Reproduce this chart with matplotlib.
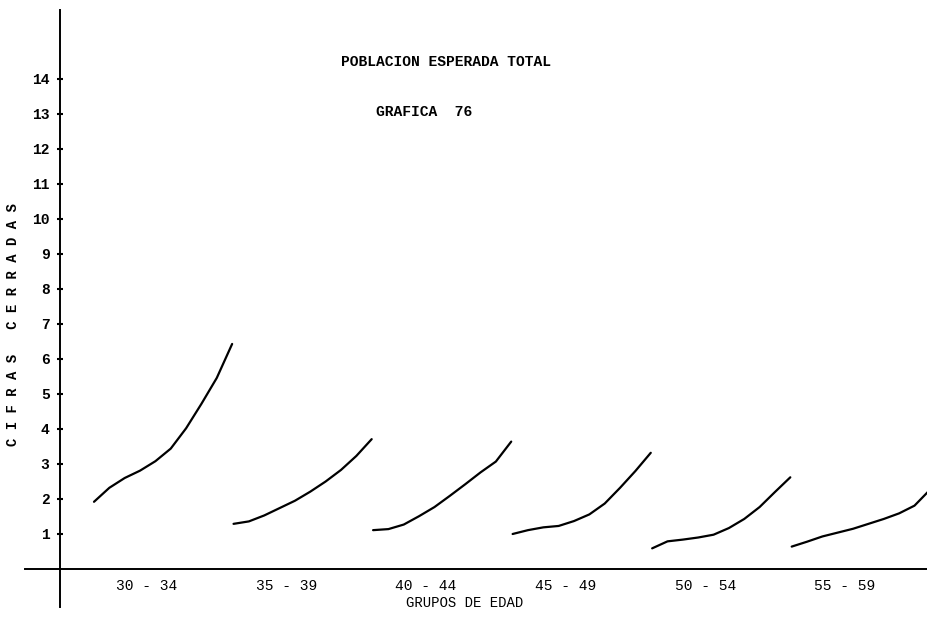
import matplotlib
matplotlib.use("Agg")
import matplotlib.pyplot as plt
import numpy as np

# ---- data ----
age_groups = ["30 - 34", "35 - 39", "40 - 44", "45 - 49", "50 - 54", "55 - 59"]
g30_34 = [1.92, 2.32, 2.60, 2.81, 3.08, 3.44, 4.02, 4.72, 5.46, 6.43]
g35_39 = [1.29, 1.36, 1.53, 1.74, 1.95, 2.21, 2.50, 2.83, 3.23, 3.71]
g40_44 = [1.11, 1.14, 1.27, 1.51, 1.77, 2.09, 2.42, 2.76, 3.07, 3.64]
g45_49 = [1.00, 1.11, 1.19, 1.23, 1.37, 1.56, 1.87, 2.32, 2.80, 3.32]
g50_54 = [0.59, 0.79, 0.84, 0.90, 0.98, 1.17, 1.43, 1.77, 2.20, 2.62]
g55_59 = [0.64, 0.78, 0.93, 1.04, 1.15, 1.29, 1.43, 1.59, 1.81, 2.26]
series = [g30_34, g35_39, g40_44, g45_49, g50_54, g55_59]
y_ticks = list(range(1, 15))

title = "POBLACION ESPERADA TOTAL"
subtitle = "GRAFICA  76"
xlabel = "GRUPOS DE EDAD"
ylabel = "C I F R A S   C E R R A D A S"

FONT = ["Liberation Mono", "DejaVu Sans Mono"]

fig = plt.figure(figsize=(9.27, 6.18), dpi=100)
ax = fig.add_axes([0, 0, 1, 1])
ax.set_facecolor("white")

for i, vals in enumerate(series):
    t = np.linspace(0, 0.99, len(vals))
    ax.plot(i + t, vals, color="black", lw=1.6, solid_capstyle="round")

ax.set_xlim(-0.6736, 5.9696)
ax.set_ylim(-1.4, 16.257)

# axes crossing style
for s in ["top", "right"]:
    ax.spines[s].set_visible(False)
ax.spines["left"].set_position(("data", -0.244))
ax.spines["bottom"].set_position(("data", 0))
ax.spines["left"].set_bounds(-1.086, 15.97)
ax.spines["bottom"].set_bounds(-0.495, 5.97)
ax.spines["left"].set_linewidth(1.4)
ax.spines["bottom"].set_linewidth(1.4)

ax.set_yticks(y_ticks)
ax.set_yticklabels([str(v) for v in y_ticks], fontfamily=FONT,
                   fontweight="bold", fontsize=10.5)
ax.tick_params(axis="y", direction="inout", length=4, width=1.5, pad=5.5)

ax.set_xticks([i + 0.38 for i in range(len(age_groups))])
ax.set_xticklabels(age_groups, fontfamily=FONT, fontsize=10.5)
ax.tick_params(axis="x", length=0, pad=7)

ax.text(2.523, 14.486, title, ha="center", va="center",
        fontfamily=FONT, fontsize=10.5, fontweight="bold")
ax.text(2.365, 13.057, subtitle, ha="center", va="center",
        fontfamily=FONT, fontsize=10.5, fontweight="bold")
ax.text(2.659, -0.971, xlabel, ha="center", va="center",
        fontfamily=FONT, fontsize=10)
ax.text(-0.580, 6.97, ylabel, ha="center", va="center", rotation=90,
        fontfamily=FONT, fontsize=10, fontweight="bold")

fig.savefig("out.png", dpi=100, facecolor="white")
